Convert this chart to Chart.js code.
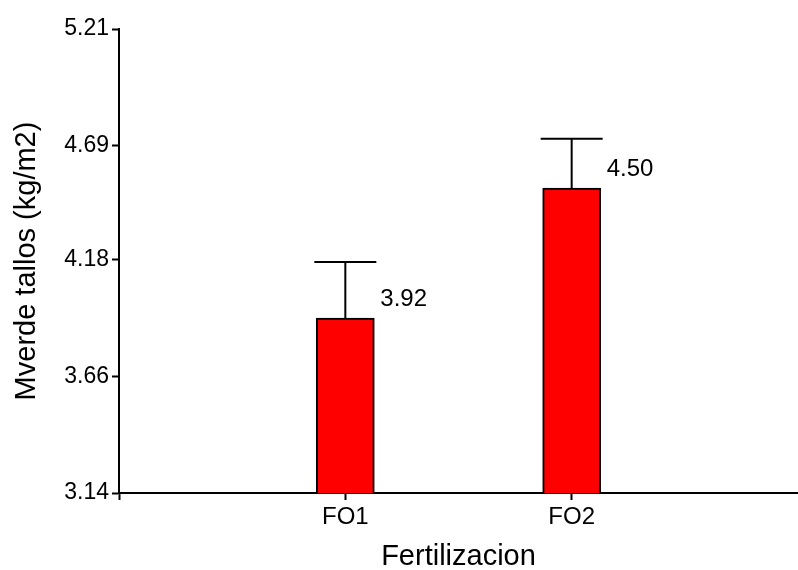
<!DOCTYPE html>
<html>
<head>
<meta charset="utf-8">
<script src="https://cdn.jsdelivr.net/npm/chart.js@4"></script>
<style>
  html, body { margin: 0; padding: 0; background: #fff; }
  #wrap { width: 798px; height: 570px; }
</style>
</head>
<body>
<div id="wrap"><canvas id="chart" width="798" height="570"></canvas></div>
<script>
// ── Data ──────────────────────────────────────────────
const categories = ['FO1', 'FO2'];
const means      = [3.92, 4.50];
const errors     = [0.25, 0.22];
const yTicks     = [3.14, 3.66, 4.18, 4.69, 5.21];

const FONT = 'Arial, "Liberation Sans", sans-serif';

// error bars (upper only) + value labels next to each bar
const barExtras = {
  id: 'barExtras',
  afterDatasetsDraw(chart) {
    const { ctx, scales: { y } } = chart;
    const meta = chart.getDatasetMeta(0);
    ctx.save();
    meta.data.forEach((bar, i) => {
      const top = y.getPixelForValue(means[i] + errors[i]);
      ctx.strokeStyle = '#000';
      ctx.lineWidth = 2;
      ctx.beginPath();
      ctx.moveTo(bar.x, bar.y);
      ctx.lineTo(bar.x, top);
      ctx.moveTo(bar.x - 31, top);
      ctx.lineTo(bar.x + 31, top);
      ctx.stroke();

      ctx.fillStyle = '#000';
      ctx.font = `24px ${FONT}`;
      ctx.textAlign = 'left';
      ctx.textBaseline = 'middle';
      ctx.fillText(means[i].toFixed(2), bar.x + bar.width / 2 + 6, bar.y - 19);
    });
    ctx.restore();
  }
};

new Chart(document.getElementById('chart'), {
  type: 'bar',
  data: {
    datasets: [{
      data: means.map((v, i) => ({ x: i + 1, y: v })),
      backgroundColor: '#ff0000',
      borderColor: '#000',
      borderWidth: 2,
      barThickness: 58,
    }],
  },
  options: {
    responsive: false,
    animation: false,
    layout: { padding: { top: 29, right: 0, left: 0, bottom: 0 } },
    plugins: { legend: { display: false }, tooltip: { enabled: false } },
    scales: {
      x: {
        type: 'linear',
        offset: false,
        min: 0, max: 3,
        afterBuildTicks: s => { s.ticks = [0, 1, 2].map(v => ({ value: v })); },
        afterFit: s => { s.height = 77; },
        border: { color: '#000', width: 2 },
        grid: { drawOnChartArea: false, offset: false, tickLength: 7, tickColor: '#000', tickWidth: 2 },
        ticks: {
          color: '#000', padding: 3, maxRotation: 0, autoSkip: false,
          font: { family: FONT, size: 24 },
          callback: v => categories[v - 1] || '',
        },
        title: {
          display: true, text: 'Fertilizacion', color: '#000',
          font: { family: FONT, size: 29, lineHeight: 0.9 }, padding: { top: 0, bottom: 0 },
        },
      },
      y: {
        min: 3.14, max: 5.21,
        afterBuildTicks: s => { s.ticks = yTicks.map(v => ({ value: v })); },
        afterFit: s => { s.width = 119; },
        border: { color: '#000', width: 2 },
        grid: { drawOnChartArea: false, tickLength: 7, tickColor: '#000', tickWidth: 2 },
        ticks: {
          color: '#000', padding: 3,
          font: { family: FONT, size: 23 },
          callback: v => v.toFixed(2),
        },
        title: {
          display: true, text: 'Mverde tallos (kg/m2)', color: '#000',
          font: { family: FONT, size: 29 }, padding: { top: 10, bottom: 0 },
        },
      },
    },
  },
  plugins: [barExtras],
});
</script>
</body>
</html>
